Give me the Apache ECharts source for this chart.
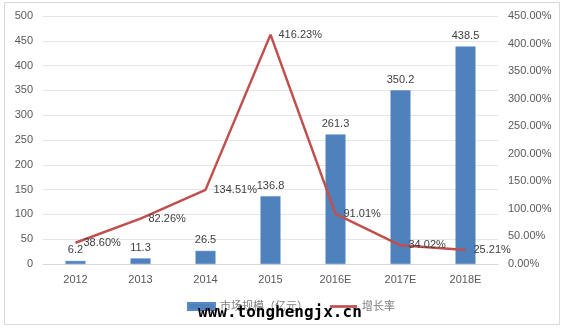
<!DOCTYPE html>
<html><head><meta charset="utf-8">
<script src="https://cdn.jsdelivr.net/npm/echarts@6/dist/echarts.min.js"></script>
<style>html,body{margin:0;padding:0;background:#fff}#c{width:566px;height:329px}</style>
</head><body><div id="c"></div>
<script>
const categories = ['2012','2013','2014','2015','2016E','2017E','2018E'];
const marketSize = [6.2, 11.3, 26.5, 136.8, 261.3, 350.2, 438.5];
const growthRate = [38.60, 82.26, 134.51, 416.23, 91.01, 34.02, 25.21];
const seriesNames = ['市场规模（亿元）', '增长率'];
const watermark = 'www.tonghengjx.cn';

const chart = echarts.init(document.getElementById('c'));
const font = '"Liberation Sans", "Noto Sans CJK SC", sans-serif';
chart.setOption({
  animation: false,
  backgroundColor: '#fff',
  graphic: [
    {type:'rect', shape:{x:4.5,y:2.5,width:555,height:322}, style:{fill:'none', stroke:'#d9d9d9', lineWidth:1}, z:-1},
    {type:'text', left:198, top:305, z:100, style:{text: watermark, font:'bold 16px "DejaVu Sans Mono", monospace', fill:'#000'}}
  ],
  grid: {left:43, right:68, top:16, bottom:65},
  legend: {
    top: 296, left: 182, itemGap: 22, itemWidth: 27, itemHeight: 7,
    textStyle: {color:'#7f7f7f', fontSize:11, fontFamily:font},
    data: [{name: seriesNames[0], icon:'rect'}, {name: seriesNames[1], icon:'path://M0,0L30,0L30,3L0,3Z'}]
  },
  xAxis: {
    type:'category', data: categories,
    axisLine:{lineStyle:{color:'#d9d9d9'}}, axisTick:{show:false},
    axisLabel:{color:'#595959', fontSize:11, fontFamily:font, margin:10}
  },
  yAxis: [
    {type:'value', min:0, max:500, interval:50,
     axisLine:{show:false}, axisTick:{show:false},
     splitLine:{lineStyle:{color:'#e6e6e6'}},
     axisLabel:{color:'#595959', fontSize:11, fontFamily:font, margin:10}},
    {type:'value', min:0, max:450, interval:50,
     axisLine:{show:false}, axisTick:{show:false}, splitLine:{show:false},
     axisLabel:{color:'#595959', fontSize:11, fontFamily:font, margin:10,
       formatter: v => v.toFixed(2) + '%'}}
  ],
  series: [
    {name: seriesNames[0], type:'bar', data: marketSize, barWidth:20,
     itemStyle:{color:'#4f81bd', borderColor:'#5a8ac6', borderWidth:0.5},
     label:{show:true, position:'top', color:'#404040', fontSize:11, fontFamily:font, distance:5}},
    {name: seriesNames[1], type:'line', yAxisIndex:1, data: growthRate,
     symbol:'circle', symbolSize:0, showSymbol:true,
     lineStyle:{color:'#c0504d', width:2.5}, itemStyle:{color:'#c0504d'},
     label:{show:true, position:'right', distance:8, color:'#404040', fontSize:11, fontFamily:font,
       formatter: p => p.value.toFixed(2) + '%'}}
  ]
});
</script></body></html>
